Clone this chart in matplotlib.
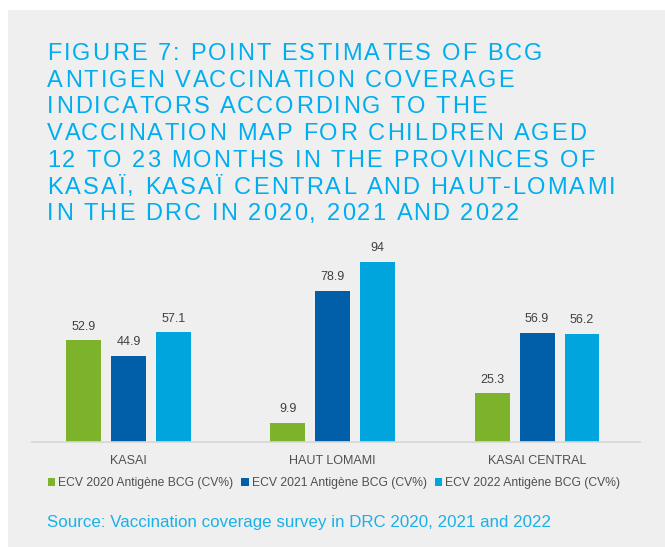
import matplotlib.pyplot as plt
import matplotlib.patches as patches
import numpy as np

plt.rcParams["font.family"] = ["Liberation Sans", "DejaVu Sans"]

provinces = ["KASAI", "HAUT LOMAMI", "KASAI CENTRAL"]
series_names = ["ECV 2020 Antigène BCG (CV%)", "ECV 2021 Antigène BCG (CV%)", "ECV 2022 Antigène BCG (CV%)"]
cv_2020 = [52.9, 9.9, 25.3]
cv_2021 = [44.9, 78.9, 56.9]
cv_2022 = [57.1, 94, 56.2]
colors = ["#7DB32A", "#005FA8", "#00A5DD"]

title_lines = ["FIGURE 7: POINT ESTIMATES OF BCG",
               "ANTIGEN VACCINATION COVERAGE",
               "INDICATORS ACCORDING TO THE",
               "VACCINATION MAP FOR CHILDREN AGED",
               "12 TO 23 MONTHS IN THE PROVINCES OF",
               "KASAÏ, KASAÏ CENTRAL AND HAUT-LOMAMI",
               "IN THE DRC IN 2020, 2021 AND 2022"]
source = "Source: Vaccination coverage survey in DRC 2020, 2021 and 2022"

W, H = 665, 547
fig = plt.figure(figsize=(W / 100, H / 100), dpi=100)
fig.patch.set_facecolor("white")
fig.patches.append(patches.Rectangle((8 / W, 0), 1, 1 - 10 / H, transform=fig.transFigure,
                                     facecolor="#EFEFEF", edgecolor="none", zorder=-5))

# title with letter spacing: place each char after the measured prefix
renderer = fig.canvas.get_renderer()
title_kw = dict(fontsize=17, color="#00AEEF", ha="left", va="baseline")
tracking = 2.15  # px between letters
x0, base0, pitch = 47, 60, 26.7
for li, line in enumerate(title_lines):
    yb = 1 - (base0 + li * pitch) / H
    probe = fig.text(0, 0, "", **title_kw)
    for k, ch in enumerate(line):
        probe.set_text(line[:k] + "|")
        wpre = probe.get_window_extent(renderer).width
        probe.set_text("|")
        wpre -= probe.get_window_extent(renderer).width
        if ch != " ":
            fig.text((x0 + wpre + k * tracking) / W, yb, ch, **title_kw)
    probe.remove()

# axes in pixel terms
ax = fig.add_axes([32 / W, 1 - 442 / H, 608 / W, 192 / H])
ax.set_facecolor("none")
ax.set_ylim(0, 100)
ax.set_xlim(-0.472, 2.504)
x = np.arange(len(provinces))
w = 0.171
step = 0.220
for i, (vals, c, name) in enumerate(zip([cv_2020, cv_2021, cv_2022], colors, series_names)):
    bars = ax.bar(x + (i - 1) * step, vals, width=w, color=c, label=name, zorder=2)
    for b, v in zip(bars, vals):
        ax.text(b.get_x() + b.get_width() / 2, v + 4, f"{v:g}", ha="center", va="bottom",
                fontsize=9, color="#404040")

for s in ["top", "right", "left"]:
    ax.spines[s].set_visible(False)
ax.spines["bottom"].set_color("#D6D6D6")
ax.spines["bottom"].set_linewidth(1.2)
ax.set_yticks([])
ax.set_xticks(x)
ax.set_xticklabels(provinces, fontsize=9, color="#505050")
ax.tick_params(axis="x", length=0, pad=9)

leg = fig.legend(loc="center", bbox_to_anchor=(334 / W, 1 - 483 / H), ncol=3, frameon=False,
                 fontsize=8.7, handlelength=0.6, handleheight=0.6, handletextpad=0.25,
                 columnspacing=0.7, labelcolor="#505050")

fig.text(47 / W, 1 - 523 / H, source, ha="left", va="center", color="#1AB0E8", fontsize=12.2)

fig.savefig("out.png", dpi=100)
